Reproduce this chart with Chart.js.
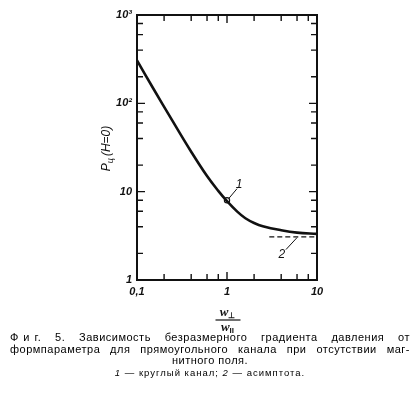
<!DOCTYPE html>
<html>
<head>
<meta charset="utf-8">
<script src="https://cdn.jsdelivr.net/npm/chart.js@4.4.0/dist/chart.umd.min.js"></script>
<style>
  html, body { margin: 0; padding: 0; background: #fff; }
  #wrap { position: relative; width: 417px; height: 393px; overflow: hidden; }
  #box { position: absolute; left: 0; top: 0; width: 417px; height: 393px; }
  #cap { position: absolute; left: 10px; top: 332px; width: 400px; color: #000;
         font-family: "Liberation Sans", sans-serif; font-size: 11px; line-height: 11.5px;
         letter-spacing: 0.5px; }
  .j { text-align: justify; text-align-last: justify; white-space: nowrap; overflow: hidden; }
  .sp { letter-spacing: 5px; }
  .c { text-align: center; }
  .s { text-align: center; font-size: 9.5px; letter-spacing: 1px; margin-top: 0px; }
</style>
</head>
<body>
<div id="wrap">
  <div id="box"><canvas id="chart"></canvas></div>
  <div id="cap">
    <div class="j"><span class="sp">Фи</span>г. 5. Зависимость безразмерного градиента давления от</div>
    <div class="j">формпараметра для прямоугольного канала при отсутствии маг-</div>
    <div class="c">нитного поля.</div>
    <div class="s"><i>1</i> — круглый канал; <i>2</i> — асимптота.</div>
  </div>
</div>
<script>
/* ---------- данные ---------- */
const curveX = [0.1, 0.15, 0.25, 0.4, 0.6, 0.8, 1.0, 1.3, 1.6, 2.0, 2.5, 4.0, 6.0, 10];
const curveY = [306, 150, 62.4, 28.3, 15.0, 10.2, 7.8, 5.94, 5.0, 4.42, 4.06, 3.66, 3.44, 3.33];

const asymX = [2.95, 10];
const asymY = [3.08, 3.08];

const markX = [1];
const markY = [8.0];

const xTickValues = [0.1, 0.2, 0.4, 0.6, 0.8, 1, 2, 4, 6, 8, 10];
const xTickLabels = { 0.1: "0,1", 1: "1", 10: "10" };
const yTickValues = [1, 2, 4, 6, 8, 10, 20, 40, 60, 80, 100, 200, 400, 600, 800, 1000];
const yTickLabels = { 1: "1", 10: "10", 100: "10²", 1000: "10³" };

const INK = "#111";

function toPts(xs, ys) {
  return xs.map((x, i) => ({ x: x, y: ys[i] }));
}

/* ---------- рамка, внутренние засечки, подписи ---------- */
const decor = {
  id: "decor",
  afterDraw(chart) {
    const ctx = chart.ctx;
    const a = chart.chartArea;
    const sx = chart.scales.x, sy = chart.scales.y;
    ctx.save();
    ctx.strokeStyle = INK;
    ctx.fillStyle = INK;

    // засечки внутрь на всех четырёх сторонах
    ctx.lineWidth = 1.4;
    ctx.beginPath();
    xTickValues.forEach(v => {
      const px = sx.getPixelForValue(v);
      const len = xTickLabels[v] ? 8 : 6;
      ctx.moveTo(px, a.bottom); ctx.lineTo(px, a.bottom - len);
      ctx.moveTo(px, a.top); ctx.lineTo(px, a.top + len);
    });
    yTickValues.forEach(v => {
      const py = sy.getPixelForValue(v);
      const len = yTickLabels[v] ? 8 : 6;
      ctx.moveTo(a.left, py); ctx.lineTo(a.left + len, py);
      ctx.moveTo(a.right, py); ctx.lineTo(a.right - len, py);
    });
    ctx.stroke();

    // рамка
    ctx.lineWidth = 2;
    ctx.strokeRect(a.left, a.top, a.right - a.left, a.bottom - a.top);

    // подпись оси Y: Pц(H=0)
    ctx.save();
    ctx.translate(106, (a.top + a.bottom) / 2 + 1);
    ctx.rotate(-Math.PI / 2);
    ctx.textBaseline = "alphabetic";
    ctx.textAlign = "left";
    const big = "italic 12px 'Liberation Sans'";
    const sub = "italic 9px 'Liberation Sans'";
    ctx.font = big; const wP = ctx.measureText("P").width;
    ctx.font = sub; const wS = ctx.measureText("ц").width;
    ctx.font = big; const wR = ctx.measureText("(H=0)").width;
    let x0 = -(wP + wS + 2 + wR) / 2;
    ctx.font = big; ctx.fillText("P", x0, 4);
    ctx.font = sub; ctx.fillText("ц", x0 + wP, 7);
    ctx.font = big; ctx.fillText("(H=0)", x0 + wP + wS + 2, 4);
    ctx.restore();

    // подпись оси X: дробь w⊥ / w∥
    const cx = sx.getPixelForValue(1) + 0.5;
    ctx.textAlign = "left";
    ctx.textBaseline = "alphabetic";
    function wsub(symbol, base) {
      ctx.font = "italic bold 13px 'Liberation Serif'";
      const w1 = ctx.measureText("w").width;
      ctx.font = "bold 8px 'Liberation Sans'";
      const w2 = ctx.measureText(symbol).width;
      const s = cx - (w1 + w2) / 2;
      ctx.font = "italic bold 13px 'Liberation Serif'";
      ctx.fillText("w", s, base);
      ctx.font = "bold 8px 'Liberation Sans'";
      ctx.fillText(symbol, s + w1, base + 2);
    }
    wsub("⊥", 316);
    ctx.lineWidth = 1.2;
    ctx.beginPath();
    ctx.moveTo(cx - 12, 320); ctx.lineTo(cx + 13, 320);
    ctx.stroke();
    wsub("II", 331);

    // метки кривых «1» и «2» с выносками
    ctx.font = "italic 12px 'Liberation Sans'";
    ctx.textAlign = "center";
    ctx.textBaseline = "middle";
    ctx.lineWidth = 1;
    const p = (x, y) => [sx.getPixelForValue(x), sy.getPixelForValue(y)];
    let [m1x, m1y] = p(markX[0], markY[0]);
    let [l1x, l1y] = p(1.36, 12);
    ctx.beginPath();
    ctx.moveTo(m1x + 2, m1y - 2); ctx.lineTo(l1x - 2, l1y + 4);
    ctx.stroke();
    ctx.fillText("1", l1x, l1y);

    let [l2x, l2y] = p(4.08, 1.94);
    let [e2x, e2y] = p(6.0, 3.02);
    ctx.beginPath();
    ctx.moveTo(l2x + 4, l2y - 5); ctx.lineTo(e2x, e2y);
    ctx.stroke();
    ctx.fillText("2", l2x, l2y);
    ctx.restore();
  }
};

const tickFont = { family: "'Liberation Sans'", style: "italic", weight: "bold", size: 11 };

new Chart(document.getElementById("chart"), {
  type: "scatter",
  data: {
    datasets: [
      {
        data: toPts(curveX, curveY),
        showLine: true,
        borderColor: INK,
        borderWidth: 2.6,
        pointRadius: 0,
        tension: 0.4
      },
      {
        data: toPts(asymX, asymY),
        showLine: true,
        borderColor: INK,
        borderWidth: 1.3,
        borderDash: [5, 3],
        pointRadius: 0
      },
      {
        data: toPts(markX, markY),
        showLine: false,
        pointRadius: 2.6,
        pointBackgroundColor: "#fff",
        pointBorderColor: INK,
        pointBorderWidth: 1.2
      }
    ]
  },
  options: {
    responsive: true,
    maintainAspectRatio: false,
    animation: false,
    events: [],
    layout: { padding: { left: 0, top: 15, right: 100, bottom: 93 } },
    plugins: { legend: { display: false }, tooltip: { enabled: false } },
    scales: {
      x: {
        type: "logarithmic",
        min: 0.1, max: 10,
        afterFit(s) { s.height = 20; },
        afterBuildTicks(s) { s.ticks = xTickValues.map(v => ({ value: v })); },
        grid: { display: false, drawTicks: false },
        border: { display: false },
        ticks: {
          autoSkip: false, maxRotation: 0, padding: 5,
          color: INK, font: tickFont,
          callback: v => xTickLabels[v] || ""
        }
      },
      y: {
        type: "logarithmic",
        min: 1, max: 1000,
        afterFit(s) { s.width = 137; },
        afterBuildTicks(s) { s.ticks = yTickValues.map(v => ({ value: v })); },
        grid: { display: false, drawTicks: false },
        border: { display: false },
        ticks: {
          autoSkip: false, padding: 5,
          color: INK, font: tickFont,
          callback: v => yTickLabels[v] || ""
        }
      }
    }
  },
  plugins: [decor]
});
</script>
</body>
</html>
